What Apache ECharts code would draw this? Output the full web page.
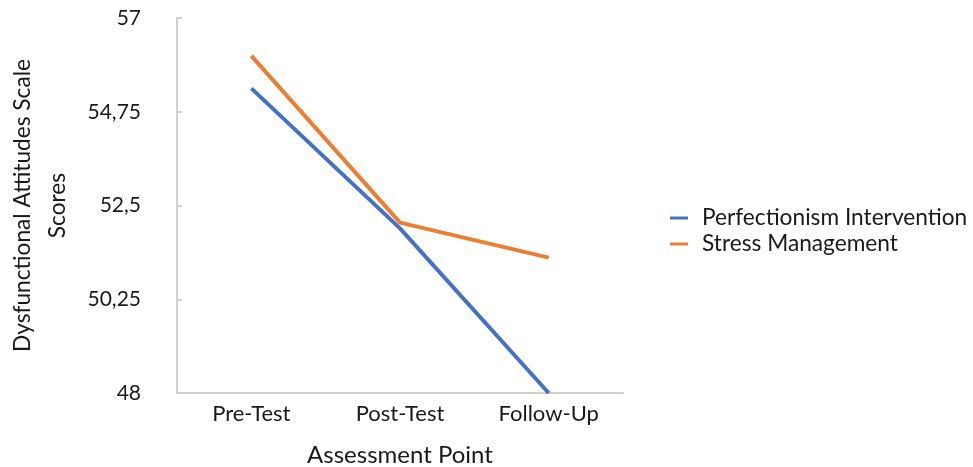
<!DOCTYPE html>
<html><head><meta charset="utf-8">
<script src="https://cdn.jsdelivr.net/npm/echarts@6/dist/echarts.min.js"></script>
<style>html,body{margin:0;padding:0;background:#fff}#c{width:973px;height:467px}</style>
</head><body><div id="c"></div>
<script>
var categories = ['Pre-Test', 'Post-Test', 'Follow-Up'];
var perfectionism = [55.31, 51.95, 48.0];
var stress = [56.09, 52.09, 51.25];
var seriesNames = ['Perfectionism Intervention', 'Stress Management'];
var yTicks = [48, 50.25, 52.5, 54.75, 57];

var font = 'Lato, "Open Sans", sans-serif';
var chart = echarts.init(document.getElementById('c'));
chart.setOption({
  animation: false,
  textStyle: {fontFamily: font},
  grid: {left: 177, right: 350, top: 18, bottom: 74, containLabel: false, outerBoundsMode: 'none'},
  legend: {
    orient: 'vertical', left: 665, top: 200,
    itemWidth: 18, itemHeight: 3, itemGap: 0,
    icon: 'rect',
    textStyle: {fontFamily: font, fontSize: 22.7, color: '#1a1a1a', lineHeight: 26, padding: [0, 0, 0, 9]},
    data: seriesNames
  },
  xAxis: {
    type: 'category', data: categories, boundaryGap: true,
    name: 'Assessment Point', nameLocation: 'middle', nameGap: 50,
    nameTextStyle: {fontFamily: font, fontSize: 24, color: '#1a1a1a'},
    axisLine: {lineStyle: {color: '#d0d0d0', width: 2}},
    axisTick: {show: false},
    axisLabel: {fontFamily: font, fontSize: 22, color: '#1a1a1a', margin: 10}
  },
  yAxis: {
    type: 'value', min: 48, max: 57, interval: 2.25,
    name: 'Dysfunctional Attitudes Scale\nScores', nameLocation: 'middle', nameGap: 102,
    nameTextStyle: {fontFamily: font, fontSize: 22.7, color: '#1a1a1a', lineHeight: 35},
    axisLine: {show: true, lineStyle: {color: '#d0d0d0', width: 2}},
    axisTick: {show: true, inside: true, length: 5, lineStyle: {color: '#d0d0d0', width: 2}},
    splitLine: {show: false},
    axisLabel: {fontFamily: font, fontSize: 21, color: '#1a1a1a', margin: 36,
      formatter: function (v) { return String(v).replace('.', ','); }}
  },
  series: [
    {name: seriesNames[0], type: 'line', data: perfectionism, symbol: 'none',
     lineStyle: {width: 4, color: '#4472C4'}, itemStyle: {color: '#4472C4'}},
    {name: seriesNames[1], type: 'line', data: stress, symbol: 'none',
     lineStyle: {width: 4, color: '#ED7D31'}, itemStyle: {color: '#ED7D31'}}
  ]
});
</script></body></html>
